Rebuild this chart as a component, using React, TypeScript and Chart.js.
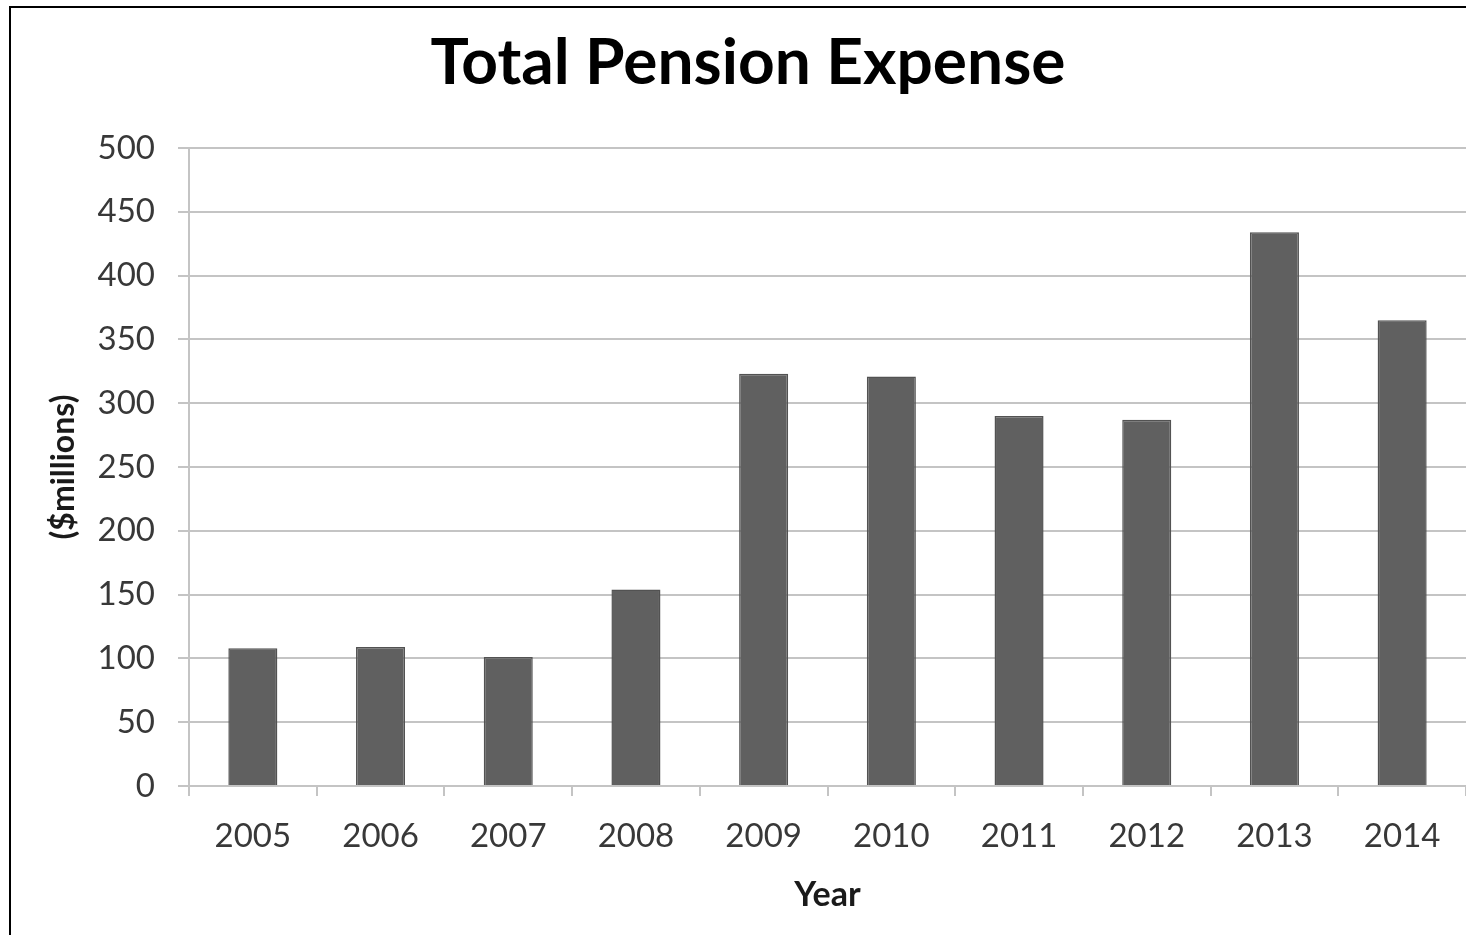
import React, { useEffect, useRef } from "react";
import { Chart, registerables } from "chart.js";

Chart.register(...registerables);

const years = ["2005", "2006", "2007", "2008", "2009", "2010", "2011", "2012", "2013", "2014"];
const pensionExpense = [108, 109, 101, 154, 323, 321, 290, 287, 434, 365];
const yMin = 0;
const yMax = 500;
const yStep = 50;
const titleText = "Total Pension Expense";
const yTitle = "($millions)";
const xTitle = "Year";

export default function App() {
  const ref = useRef<HTMLCanvasElement | null>(null);

  useEffect(() => {
    if (!ref.current) return;
    const gridColor = "#c4c4c4";
    const chart = new Chart(ref.current, {
      type: "bar",
      data: {
        labels: years,
        datasets: [
          {
            data: pensionExpense,
            backgroundColor: "#606060",
            borderColor: "#525252",
            borderWidth: 1.5,
            categoryPercentage: 1,
            barPercentage: 0.384,
          },
        ],
      },
      options: {
        responsive: false,
        animation: false,
        devicePixelRatio: 1,
        layout: { padding: { left: 30, top: 0, bottom: 0, right: 0 } },
        plugins: {
          legend: { display: false },
          tooltip: { enabled: false },
          title: {
            display: true,
            text: titleText,
            color: "#000",
            font: { family: "Lato", size: 64, weight: "bold", lineHeight: 1.2 },
            padding: { top: 25, bottom: 46.2 },
          },
        },
        scales: {
          x: {
            grid: {
              display: true,
              drawOnChartArea: false,
              drawTicks: true,
              tickLength: 10,
              color: gridColor,
              lineWidth: 2,
            },
            border: { display: true, color: gridColor, width: 2 },
            ticks: {
              color: "#383838",
              font: { family: "Lato", size: 33 },
              padding: 21,
              maxRotation: 0,
              autoSkip: false,
            },
            title: {
              display: true,
              text: xTitle,
              color: "#1a1a1a",
              font: { family: "Lato", size: 34, weight: "bold", lineHeight: 1.2 },
              padding: { top: 0, bottom: 20 },
            },
            afterFit: (scale: any) => {
              scale.height = 149;
            },
          },
          y: {
            min: yMin,
            max: yMax,
            grid: {
              color: gridColor,
              lineWidth: 2,
              drawTicks: true,
              tickLength: 11,
            },
            border: { display: true, color: gridColor, width: 2 },
            ticks: {
              stepSize: yStep,
              color: "#383838",
              font: { family: "Lato", size: 33 },
              padding: 23,
            },
            title: {
              display: true,
              text: yTitle,
              color: "#1a1a1a",
              font: { family: "Lato", size: 32, weight: "bold", lineHeight: 1.2 },
              padding: { top: 14, bottom: 0 },
            },
            afterFit: (scale: any) => {
              scale.width = 159;
            },
          },
        },
      },
    });
    return () => chart.destroy();
  }, []);

  return (
    <div>
      <canvas
        ref={ref}
        width={1466}
        height={935}
        style={{ position: "fixed", left: 0, top: 0, width: 1466, height: 935, background: "#fff" }}
      />
      <div
        style={{
          position: "fixed",
          left: 9,
          top: 6,
          right: -10,
          bottom: -10,
          borderLeft: "2px solid #000",
          borderTop: "2px solid #000",
          pointerEvents: "none",
        }}
      />
    </div>
  );
}
